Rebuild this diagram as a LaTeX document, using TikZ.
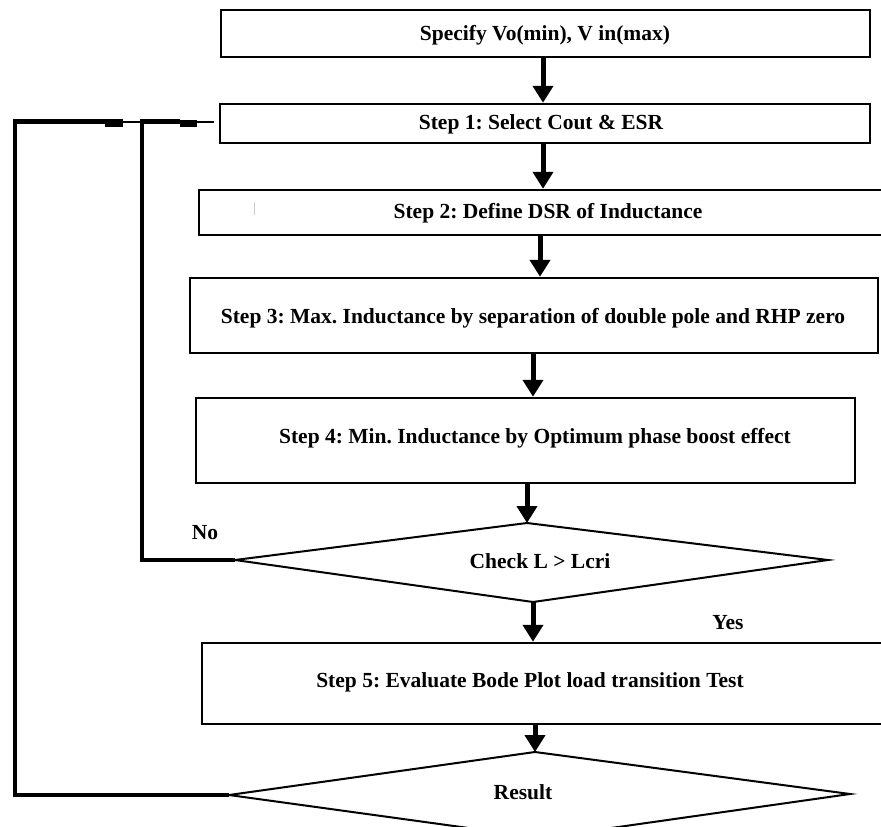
\documentclass[tikz,border=0pt]{standalone}
\usepackage{fontspec}
\setmainfont{Liberation Serif}
\usetikzlibrary{arrows.meta}
\frenchspacing
\tikzset{
  box/.style={draw, line width=2.5pt, inner sep=0pt},
  lbl/.style={font=\fontsize{21.5}{24}\selectfont\bfseries, inner sep=0pt},
  flow/.style={line width=5pt, -{Triangle[width=20pt,length=17pt]}},
  dia/.style={line width=2pt, line join=miter},
  back/.style={line width=4.5pt},
  thinback/.style={line width=2pt},
}
\begin{document}
\begin{tikzpicture}[x=1pt,y=-1pt]
\useasboundingbox (0,0) rectangle (881,827);
\clip (0,0) rectangle (881,827);
\fill[white] (0,0) rectangle (881,827);

% process boxes
\node[box, minimum width=649pt, minimum height=47pt] (b0) at (545.5,33.5) {};
\node[box, minimum width=650pt, minimum height=39pt] (b1) at (545,123.5) {};
\node[box, minimum width=698pt, minimum height=45pt] (b2) at (548,212.5) {};
\node[box, minimum width=688pt, minimum height=75pt] (b3) at (534,315.5) {};
\node[box, minimum width=659pt, minimum height=85pt] (b4) at (525.5,440.5) {};
\node[box, minimum width=698pt, minimum height=81pt] (b5) at (551,683.5) {};
\draw[gray!40, line width=1pt] (254,202) -- (254,215);

% box texts
\node[lbl] (t0) at (545,35) {Specify Vo(min), V in(max)};
\node[lbl] (t1) at (541,124) {Step 1: Select Cout \& ESR};
\node[lbl] (t2) at (548,213) {Step 2: Define DSR of Inductance};
\node[lbl] (t3) at (533,318) {Step 3: Max. Inductance by separation of double pole and RHP zero};
\node[lbl] (t4) at (535,438) {Step 4: Min. Inductance by Optimum phase boost effect};
\node[lbl] (t5) at (530,682) {Step 5: Evaluate Bode Plot load transition Test};

% decision diamonds
\coordinate (d1L) at (235,560);
\coordinate (d1T) at (527,523);
\coordinate (d1R) at (828,560);
\coordinate (d1B) at (533,602);
\draw[dia] (d1L) -- (d1T) -- (d1R) -- (d1B) -- cycle;
\node[lbl] (chk) at (540,561) {Check L > Lcri};

\coordinate (d2L) at (229,795);
\coordinate (d2T) at (535,752);
\coordinate (d2R) at (850,794);
\coordinate (d2B) at (541,838);
\draw[dia] (d2L) -- (d2T) -- (d2R) -- (d2B) -- cycle;
\node[lbl] (res) at (523,792) {Result};

\node[lbl] (yes) at (728,623) {Yes};
\node[lbl] (no) at (205,533) {No};

% main flow
\draw[flow] ([xshift=-2.5pt]b0.south) -- ([xshift=-2.5pt]b0.south |- b1.north);
\draw[flow] ([xshift=-2pt]b1.south) -- ([xshift=-2pt]b1.south |- b2.north);
\draw[flow] ([xshift=-8pt]b2.south) -- ([xshift=-8pt]b2.south |- b3.north);
\draw[flow] ([xshift=-1pt]b3.south) -- ([xshift=-1pt]b3.south |- b4.north);
\draw[flow] (b4.south -| d1T) -- (d1T);
\draw[flow] (d1B) -- (d1B |- b5.north);
\draw[flow] (b5.south -| d2T) -- (d2T);

% feedback paths
\coordinate (oc) at (15,121.5);
\coordinate (ic) at (142,121.5);
\draw[back, line join=miter] (d2L) -| (oc) -- (123,121.5);
\draw[back, line join=miter] (d1L) -| (ic) -- (180,121.5);
\fill (105,119.5) rectangle (123,127);
\fill (180,119.5) rectangle (197,127);
\draw[thinback] (123,121.5) -- (ic);
\draw[thinback] (197,121.5) -- ([xshift=-5pt]b1.west |- oc);
\end{tikzpicture}
\end{document}
